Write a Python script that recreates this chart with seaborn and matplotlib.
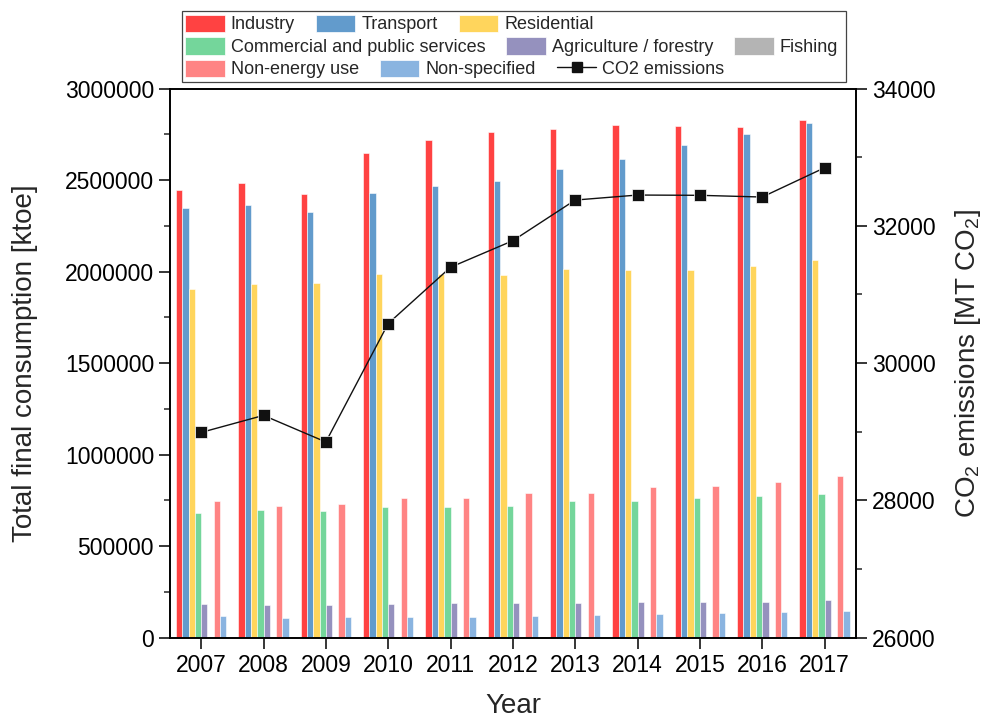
import numpy as np
import pandas as pd
import matplotlib
matplotlib.use("Agg")
import matplotlib.pyplot as plt
import seaborn as sns
from matplotlib.patches import Patch, Rectangle
from matplotlib.lines import Line2D
from matplotlib.ticker import MultipleLocator, FuncFormatter

# ---------------- data ----------------
years = [2007, 2008, 2009, 2010, 2011, 2012, 2013, 2014, 2015, 2016, 2017]
industry = [2445000, 2485000, 2425000, 2647000, 2720000, 2762000, 2778000, 2800000, 2794000, 2791000, 2826000]
transport = [2345000, 2362000, 2324000, 2429000, 2467000, 2493000, 2562000, 2613000, 2691000, 2749000, 2812000]
residential = [1907000, 1934000, 1938000, 1989000, 1985000, 1980000, 2016000, 2009000, 2009000, 2033000, 2065000]
commercial = [682000, 700000, 693000, 716000, 716000, 721000, 747000, 747000, 762000, 776000, 785000]
agriculture = [182000, 180000, 180000, 182000, 188000, 190000, 191000, 193000, 195000, 197000, 206000]
fishing = [5200, 5100, 5000, 5000, 4900, 4900, 4800, 4800, 4800, 4700, 4700]
non_energy = [745000, 717000, 728000, 763000, 763000, 791000, 789000, 824000, 829000, 849000, 885000]
non_specified = [118000, 108000, 113000, 113000, 113000, 120000, 126000, 131000, 133000, 140000, 147000]
co2 = [28990, 29238, 28851, 30576, 31396, 31783, 32375, 32448, 32444, 32419, 32845]

sector_names = ["Industry", "Transport", "Residential", "Commercial and public services",
                "Agriculture / forestry", "Fishing", "Non-energy use", "Non-specified"]
sector_values = [industry, transport, residential, commercial, agriculture, fishing,
                 non_energy, non_specified]
sector_colors = ["#FF4242", "#629BCC", "#FFD55C", "#74D69B", "#9591BE", "#B4B4B4",
                 "#FF8484", "#8AB4E0"]
co2_label = "CO2 emissions"

rows = []
for name, vals in zip(sector_names, sector_values):
    for y, v in zip(years, vals):
        rows.append((str(y), name, v))
df = pd.DataFrame(rows, columns=["Year", "Sector", "Value"])

# ---------------- style ----------------
sns.set_style("ticks")
plt.rcParams["font.family"] = ["Liberation Sans", "DejaVu Sans"]
plt.rcParams["mathtext.fontset"] = "custom"
plt.rcParams["mathtext.rm"] = "Liberation Sans"
plt.rcParams["mathtext.it"] = "Liberation Sans:italic"
plt.rcParams["mathtext.default"] = "regular"

fig = plt.figure(figsize=(9.87, 7.22), dpi=100)
ax = fig.add_axes([170 / 987, (722 - 637.7) / 722, (855.7 - 170) / 987, (637.7 - 88.5) / 722])

sns.barplot(data=df, x="Year", y="Value", hue="Sector", hue_order=sector_names,
            palette=sector_colors, width=0.81, gap=0, dodge=True, legend=False,
            saturation=1, edgecolor="white", linewidth=0.4, errorbar=None, ax=ax)

ax2 = ax.twinx()
sns.lineplot(x=np.arange(len(years)), y=co2, ax=ax2, color="#111111", linewidth=1.0,
             marker="s", markersize=8.5, markeredgecolor="white", markeredgewidth=0.5)

ax.set_xlim(-0.5, len(years) - 0.5)
ax.set_ylim(0, 3000000)
ax2.set_ylim(26000, 34000)

ax.yaxis.set_major_locator(MultipleLocator(500000))
ax.yaxis.set_minor_locator(MultipleLocator(250000))
ax.yaxis.set_major_formatter(FuncFormatter(lambda v, p: f"{int(round(v))}"))
ax2.yaxis.set_major_locator(MultipleLocator(2000))
ax2.yaxis.set_minor_locator(MultipleLocator(1000))
ax2.yaxis.set_major_formatter(FuncFormatter(lambda v, p: f"{int(round(v))}"))

for a in (ax, ax2):
    a.tick_params(axis="both", which="major", length=8, width=1.1, labelsize=16.5,
                  direction="out", colors="black")
    a.tick_params(axis="y", which="minor", length=4, width=1.1, direction="out")
    for s in a.spines.values():
        s.set_linewidth(1.2)
        s.set_color("black")
        s.set_visible(True)

ax.set_xlabel("Year", fontsize=20, labelpad=12)
ax.set_ylabel("Total final consumption [ktoe]", fontsize=20, labelpad=19)
ax2.set_ylabel("CO$_2$ emissions [MT CO$_2$]", fontsize=20, labelpad=13)

# ---------------- legend (three flowing rows inside one frame) ----------------
handles = [Patch(facecolor=c, edgecolor="white", linewidth=0.5) for c in sector_colors]
handles.append(Line2D([], [], color="#111111", linewidth=1.0, marker="s", markersize=7))
labels = sector_names + [co2_label]
row_y = [1 - 24 / 722, 1 - 46.7 / 722, 1 - 69 / 722]
for r in range(3):
    idx = [3 * r, 3 * r + 1, 3 * r + 2]
    fig.legend([handles[i] for i in idx], [labels[i] for i in idx],
               loc="center left", bbox_to_anchor=(185 / 987, row_y[r]),
               ncol=3, frameon=False, fontsize=13, handlelength=2.2, handleheight=1.1,
               handletextpad=0.33, columnspacing=1.16, borderpad=0, borderaxespad=0)
fig.add_artist(Rectangle((181.7 / 987, 1 - 82 / 722), 664 / 987, 71 / 722,
                         transform=fig.transFigure, fill=False, edgecolor="#444444",
                         linewidth=0.9))

fig.savefig("out.png", dpi=100)
